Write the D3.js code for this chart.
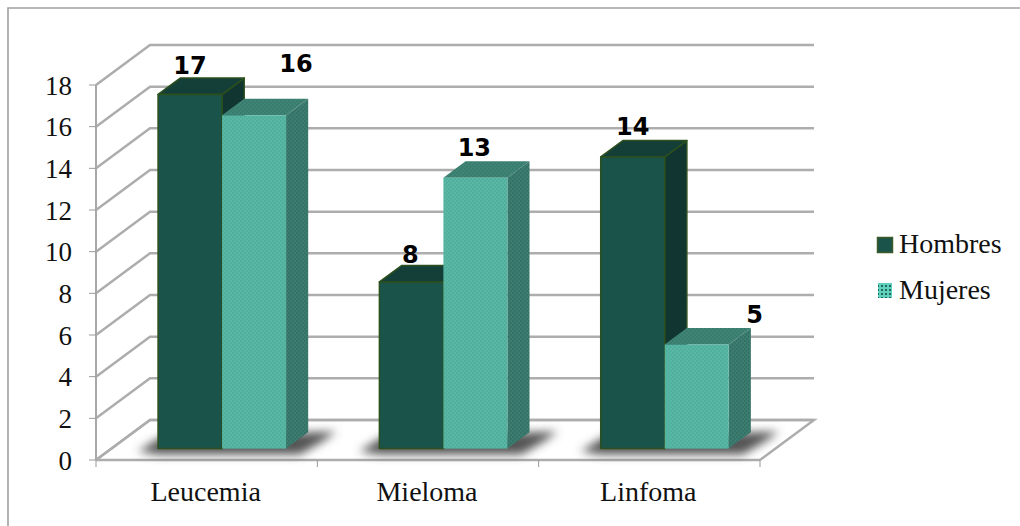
<!DOCTYPE html>
<html><head><meta charset="utf-8">
<script src="https://cdn.jsdelivr.net/npm/d3@7"></script>
<style>html,body{margin:0;padding:0;background:#fff}svg{display:block}</style>
</head><body><div id="c"></div>
<script>
const categories = ["Leucemia","Mieloma","Linfoma"];
const seriesNames = ["Hombres","Mujeres"];
const hombres = [17,8,14];
const mujeres = [16,13,5];
const yTicks = [0,2,4,6,8,10,12,14,16,18];

const W=1020,H=526;
const svg=d3.select("#c").append("svg").attr("width",W).attr("height",H);
const defs=svg.append("defs");
const blur=defs.append("filter").attr("id","b").attr("filterUnits","userSpaceOnUse").attr("x",0).attr("y",0).attr("width",W).attr("height",H);
blur.append("feGaussianBlur").attr("stdDeviation",5);
const soft=defs.append("filter").attr("id","s").attr("filterUnits","userSpaceOnUse").attr("x",0).attr("y",0).attr("width",W).attr("height",H);
soft.append("feGaussianBlur").attr("stdDeviation",0.5);
function pat(id,bg,dot){
  const p=defs.append("pattern").attr("id",id).attr("patternUnits","userSpaceOnUse").attr("width",4).attr("height",4);
  p.append("rect").attr("width",4).attr("height",4).attr("fill",bg);
  p.append("rect").attr("x",0).attr("y",0).attr("width",1.5).attr("height",2).attr("fill",dot);
  p.append("rect").attr("x",2).attr("y",2).attr("width",1.5).attr("height",2).attr("fill",dot);
}
pat("pf","#58b8a5","#4fac9a");
pat("pt","#3f8576","#397a6c");
pat("ps","#3b7d70","#356f63");
const lp=defs.append("pattern").attr("id","pl").attr("patternUnits","userSpaceOnUse").attr("width",4).attr("height",4);
lp.append("rect").attr("width",4).attr("height",4).attr("fill","#5fd0bb");
lp.append("rect").attr("x",1).attr("y",1).attr("width",2).attr("height",2).attr("fill","#1f6a5c");

// frame: only top and left edges are visible in the picture
svg.append("path").attr("d","M8,526V8H1020").attr("fill","none").attr("stroke","#a0a0a0").attr("stroke-width",1.6);

const x0=d3.scaleBand().domain(categories).range([96,760]);
const y=d3.scaleLinear().domain([0,18]).range([460,85]);
const x1=d3.scaleBand().domain(seriesNames).range([0,128]);
const backDx=54,backDy=-40;
const frontT=0.285, depthT=0.41;
const off=t=>[backDx*t,backDy*t];
const grid="#adadad";
const g=svg.append("g");

const fl=y(0);
g.append("path").attr("d",d3.line()([[96,fl],[96+backDx,fl+backDy],[760+backDx,fl+backDy],[760,fl]])).attr("fill","#fff").attr("stroke",grid).attr("stroke-width",2.5).attr("filter","url(#s)");
g.selectAll(".gl").data(yTicks).join("path").attr("class","gl")
 .attr("d",d=>d3.line()([[96,y(d)],[96+backDx,y(d)+backDy],[760+backDx,y(d)+backDy]]))
 .attr("fill","none").attr("stroke",grid).attr("stroke-width",2.5).attr("filter","url(#s)");
g.append("line").attr("x1",96).attr("x2",96).attr("y1",y(18)).attr("y2",y(0)).attr("stroke","#a8a8a8").attr("stroke-width",2);
g.selectAll(".yt").data(yTicks).join("line").attr("class","yt").attr("x1",89).attr("x2",96).attr("y1",d=>y(d)).attr("y2",d=>y(d)).attr("stroke","#999");
g.append("line").attr("x1",96).attr("x2",760).attr("y1",fl).attr("y2",fl).attr("stroke",grid).attr("stroke-width",2.5).attr("filter","url(#s)");
g.selectAll(".xt").data(d3.range(4)).join("line").attr("class","xt")
 .attr("x1",i=>96+i*x0.bandwidth()).attr("x2",i=>96+i*x0.bandwidth()).attr("y1",fl).attr("y2",fl+7).attr("stroke","#999");

const [fx,fy]=off(frontT), [dx,dy]=off(depthT);
const pad=(x0.bandwidth()-128)/2;
const groups=categories.map((c,i)=>({c,vals:[hombres[i],mujeres[i]]}));
groups.forEach(d=>{
  const xl=x0(d.c)+pad+fx, xr=xl+128, b=y(0)+fy;
  g.append("path").attr("d",d3.line()([[xl-20,b+3],[xl+4,b-12],[xr+dx+28,b-17],[xr+dx+14,b-7],[xr+14,b+6],[xl,b+6]]))
   .attr("fill","#555").attr("filter","url(#b)");
});
const sty=[
 {f:"#1a5349",t:"#143f38",s:"#113530",st:"#2c4f1e"},
 {f:"url(#pf)",t:"url(#pt)",s:"url(#ps)",st:"none"}];
const P=a=>d3.line()(a)+"Z";
groups.forEach(d=>{
  [0,1].forEach(k=>{
    const xl=x0(d.c)+pad+fx+x1(seriesNames[k]), w=x1.bandwidth();
    const b=y(0)+fy, t=y(d.vals[k])+fy, c=sty[k];
    const gg=g.append("g").attr("stroke",c.st).attr("stroke-width",c.st==="none"?0:1.5).attr("stroke-linejoin","round");
    gg.append("path").attr("d",P([[xl+w,t],[xl+w+dx,t+dy],[xl+w+dx,b+dy],[xl+w,b]])).attr("fill",c.s);
    gg.append("path").attr("d",P([[xl,t],[xl+dx,t+dy],[xl+w+dx,t+dy],[xl+w,t]])).attr("fill",c.t);
    gg.append("rect").attr("x",xl).attr("y",t).attr("width",w).attr("height",b-t).attr("fill",c.f);
  });
});
// hand-moved data labels: offset from the bar's top centre, [series][category]
const labelNudgeX=[[0,-1,0],[42,-1,58]];
const labelNudgeY=[[-4,-3,-6],[-27,-5,-5]];
const lbl=g.append("g").attr("font-family","'DejaVu Sans',sans-serif").attr("font-weight","bold").attr("font-size",24).attr("fill","#000").attr("text-anchor","middle");
groups.forEach((d,i)=>{
  d.vals.forEach((v,k)=>{
    const xl=x0(d.c)+pad+fx+x1(seriesNames[k]);
    lbl.append("text").attr("x",xl+x1.bandwidth()/2+labelNudgeX[k][i]).attr("y",y(v)+fy+dy+labelNudgeY[k][i]).text(v);
  });
});
const serif="'Liberation Serif',serif";
g.selectAll(".yl").data(yTicks).join("text").attr("class","yl").attr("x",72).attr("text-anchor","end").attr("y",d=>y(d)+9.5)
 .attr("font-family",serif).attr("font-size",27).attr("fill","#111").text(d=>d);
g.selectAll(".xl").data(categories).join("text").attr("class","xl").attr("x",d=>x0(d)+x0.bandwidth()/2-1).attr("y",501).attr("text-anchor","middle")
 .attr("font-family",serif).attr("font-size",28).attr("fill","#111").text(d=>d);
const ly=d3.scalePoint().domain(seriesNames).range([245,290.5]);
seriesNames.forEach((n,k)=>{
  g.append("rect").attr("x",k?878:877.5).attr("y",ly(n)-7.5).attr("width",k?14:15).attr("height",15)
   .attr("fill",k?"url(#pl)":"#1a5349").attr("stroke",k?"none":"#3c5a2a").attr("stroke-width",1.5);
  g.append("text").attr("x",899).attr("y",ly(n)+8).attr("font-family",serif).attr("font-size",28).attr("fill","#111").text(n);
});
</script></body></html>
